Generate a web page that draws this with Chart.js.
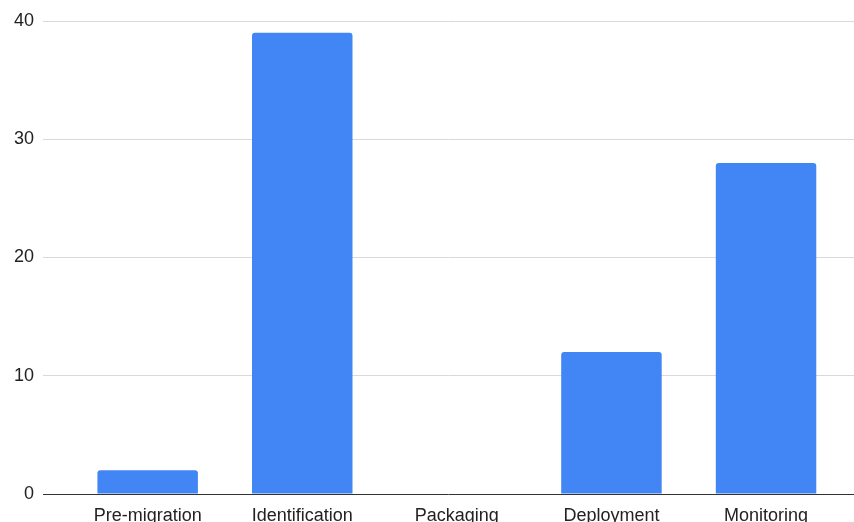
<!DOCTYPE html>
<html>
<head>
<meta charset="utf-8">
<script src="https://cdn.jsdelivr.net/npm/chart.js@4/dist/chart.umd.min.js"></script>
<style>
  html, body { margin: 0; padding: 0; background: #ffffff; }
  #wrap { width: 854px; height: 522px; position: relative; }
</style>
</head>
<body>
<div id="wrap"><canvas id="c" width="854" height="522"></canvas></div>
<script>
const categories = ["Pre-migration", "Identification", "Packaging", "Deployment", "Monitoring"];
const values = [2, 39, 0, 12, 28];
const yTickValues = [0, 10, 20, 30, 40];

const points = categories.map((c, i) => ({ x: i, y: values[i] }));
const FONT = "'Liberation Sans', Arial, sans-serif";

new Chart(document.getElementById('c'), {
  type: 'bar',
  data: {
    datasets: [{
      data: points,
      backgroundColor: '#4285F4',
      borderRadius: 3,
      borderSkipped: 'start',
      categoryPercentage: 1,
      barPercentage: 0.65
    }]
  },
  options: {
    responsive: false,
    animation: false,
    layout: { padding: { top: 21, right: 0, left: 0, bottom: 0 } },
    plugins: { legend: { display: false }, tooltip: { enabled: false } },
    scales: {
      x: {
        type: 'linear',
        offset: false,
        min: -0.677,
        max: 4.569,
        grid: { display: false },
        border: { display: false },
        afterBuildTicks: (axis) => { axis.ticks = categories.map((_, i) => ({ value: i })); },
        afterFit: (scale) => { scale.height = 28; },
        ticks: {
          autoSkip: false,
          maxRotation: 0,
          padding: 3,
          color: '#222222',
          font: { family: FONT, size: 18 },
          callback: (v) => categories[v]
        }
      },
      y: {
        min: 0,
        max: 40,
        border: { display: false },
        afterBuildTicks: (axis) => { axis.ticks = yTickValues.map(v => ({ value: v })); },
        afterFit: (scale) => { scale.width = 43; },
        grid: {
          drawTicks: false,
          color: (ctx) => ctx.tick && ctx.tick.value === 0 ? '#333333' : '#d9d9d9',
          lineWidth: 1
        },
        ticks: {
          padding: 9,
          color: '#222222',
          font: { family: FONT, size: 18 }
        }
      }
    }
  }
});
</script>
</body>
</html>
